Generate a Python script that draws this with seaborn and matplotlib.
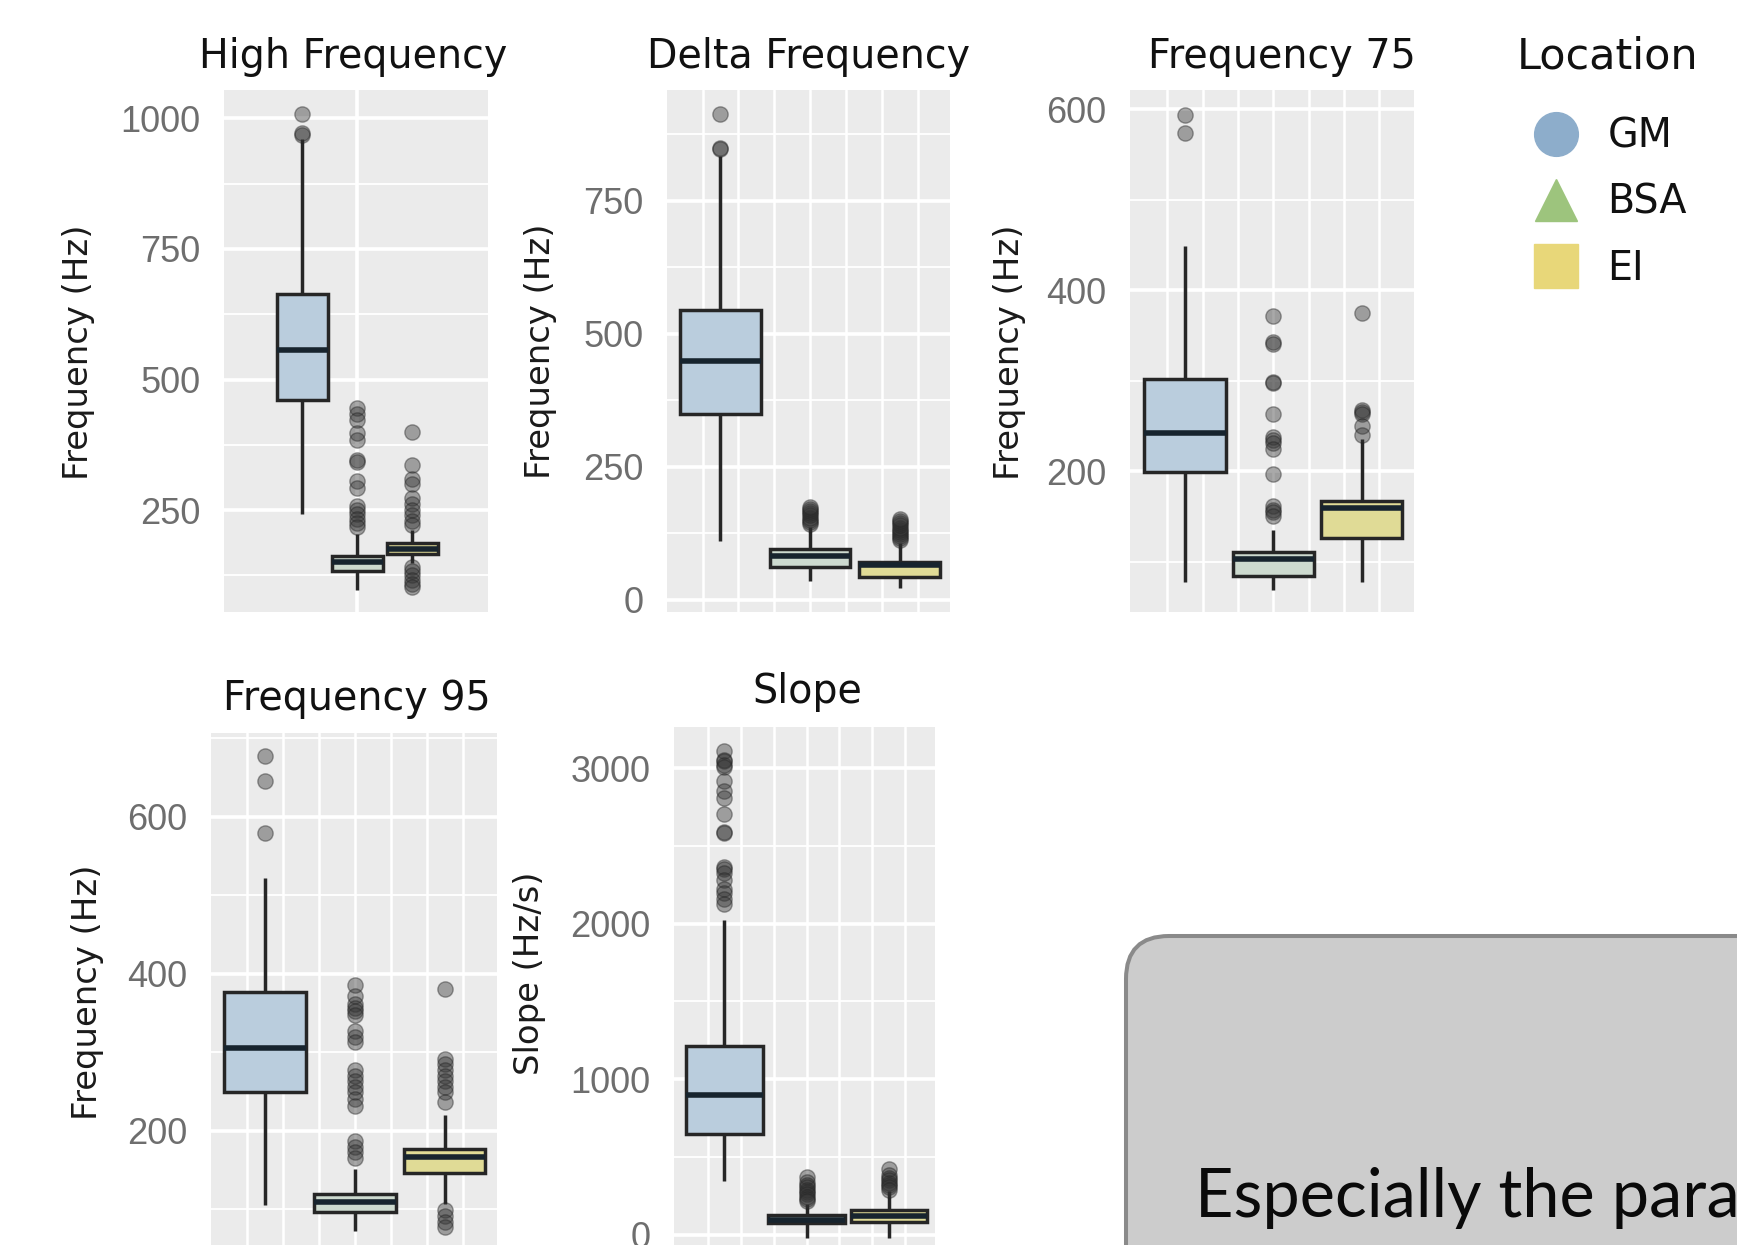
import matplotlib
matplotlib.use("Agg")
import matplotlib.pyplot as plt
import seaborn as sns
import pandas as pd
from matplotlib.lines import Line2D
from matplotlib.patches import FancyBboxPatch

# ---------------- data ----------------
locations = ["GM", "BSA", "EI"]
box_colors = ["#b4cde3", "#cbdccd", "#ece68a"]
legend_colors = ["#8dadcb", "#9dc47d", "#e8d779"]
legend_markers = ["o", "^", "s"]

panel_titles = ["High Frequency", "Delta Frequency", "Frequency 75", "Frequency 95", "Slope"]
panel_ylabels = ["Frequency (Hz)", "Frequency (Hz)", "Frequency (Hz)", "Frequency (Hz)", "Slope (Hz/s)"]

# five-number summaries per location (GM, BSA, EI): [whisker low, Q1, median, Q3, whisker high]
hf_box = [[242, 461, 556, 664, 960], [98, 134, 150, 163, 205], [148, 166, 176, 187, 213]]
hf_out_gm = [969, 972, 1008]
hf_out_bsa = [445, 434, 422, 397, 385, 346, 342, 306, 293, 258, 250, 242, 234, 226, 218]
hf_out_ei = [400, 336, 309, 301, 273, 262, 250, 240, 230, 221, 141, 133, 125, 117, 109, 102]

df_box = [[111, 349, 449, 546, 835], [35, 62, 83, 96, 138], [23, 44, 65, 71, 107]]
df_out_gm = [848, 850, 913]
df_out_bsa = [143, 147, 151, 155, 159, 163, 167, 171, 175]
df_out_ei = [112, 116, 120, 124, 128, 132, 136, 140, 144, 148, 152]

f75_box = [[77, 199, 242, 302, 449], [69, 84, 103, 111, 135], [77, 126, 159, 167, 236]]
f75_out_gm = [574, 594]
f75_out_bsa = [372, 343, 341, 299, 297, 263, 238, 235, 231, 225, 197, 161, 157, 155, 150]
f75_out_ei = [375, 268, 265, 263, 250, 240]

f95_box = [[106, 250, 306, 377, 522], [73, 97, 110, 120, 151], [107, 146, 167, 177, 220]]
f95_out_gm = [579, 645, 677]
f95_out_bsa = [386, 372, 362, 357, 353, 348, 327, 320, 313, 277, 270, 263, 256, 249, 241, 232,
               187, 180, 173, 166]
f95_out_ei = [381, 292, 285, 277, 270, 263, 256, 249, 237, 99, 91, 84, 77]

slope_box = [[348, 650, 897, 1214, 2024], [-20, 76, 96, 125, 200], [-20, 84, 120, 156, 280]]
slope_out_gm = [3112, 3052, 3045, 3023, 3008, 2915, 2855, 2808, 2707, 2587, 2580, 2364, 2350,
                2328, 2280, 2220, 2196, 2160, 2124]
slope_out_bsa = [372, 338, 320, 305, 290, 275, 260, 245, 230, 215]
slope_out_ei = [420, 383, 365, 350, 335, 320, 305, 290]

# ---------------- layout (pixels) ----------------
W, H = 1737, 1245
panels = [
    dict(box=hf_box, out=[hf_out_gm, hf_out_bsa, hf_out_ei], px=(224, 89.8, 487.5, 612),
         ylim=(55.1, 1054.7), major=[250, 500, 750, 1000], minor=[125, 375, 625, 875],
         xlim=(-1.42, 3.37), vgrid=[1.0], width=0.93, lab=(78.6, 352), pad=15.5, tx=0.49),
    dict(box=df_box, out=[df_out_gm, df_out_bsa, df_out_ei], px=(666.7, 90, 950, 612),
         ylim=(-22.6, 958.6), major=[0, 250, 500, 750], minor=[125, 375, 625, 875],
         xlim=(-0.60, 2.56), vgrid=[-0.2, 0.2, 0.6, 1.0, 1.4, 1.8, 2.2], width=0.9,
         lab=(540.5, 351), pad=15.5, tx=0.5),
    dict(box=f75_box, out=[f75_out_gm, f75_out_bsa, f75_out_ei], px=(1129.7, 90, 1414.5, 612),
         ylim=(44.3, 621.4), major=[200, 400, 600], minor=[100, 300, 500],
         xlim=(-0.625, 2.60), vgrid=[-0.2, 0.2, 0.6, 1.0, 1.4, 1.8, 2.2], width=0.92,
         lab=(1009, 352), pad=15.5, tx=0.535),
    dict(box=f95_box, out=[f95_out_gm, f95_out_bsa, f95_out_ei], px=(210.7, 732.8, 496.7, 1290),
         ylim=(-2.7, 707.0), major=[200, 400, 600], minor=[100, 300, 500, 700],
         xlim=(-0.605, 2.58), vgrid=[-0.2, 0.2, 0.6, 1.0, 1.4, 1.8, 2.2], width=0.91,
         lab=(87.5, 992), pad=16.1, tx=0.51),
    dict(box=slope_box, out=[slope_out_gm, slope_out_bsa, slope_out_ei], px=(674, 727.2, 935, 1290),
         ylim=(-356, 3263), major=[0, 1000, 2000, 3000], minor=[500, 1500, 2500],
         xlim=(-0.61, 2.56), vgrid=[-0.2, 0.2, 0.6, 1.0, 1.4, 1.8, 2.2], width=0.93,
         lab=(530, 973.5), pad=17.5, tx=0.51),
]

sns.set_style("white")
plt.rcParams["font.family"] = ["DejaVu Sans"]

fig = plt.figure(figsize=(W / 100, H / 100), dpi=100)
fig.patch.set_facecolor("white")

palette = dict(zip(locations, box_colors))

for p, title, ylab in zip(panels, panel_titles, panel_ylabels):
    l, t, r, b = p["px"]
    ax = fig.add_axes([l / W, 1 - b / H, (r - l) / W, (b - t) / H])
    ax.set_facecolor("#ebebeb")
    ax.set_axisbelow(True)

    box_df = pd.DataFrame(
        [(loc, v) for loc, vals in zip(locations, p["box"]) for v in vals],
        columns=["Location", "value"])
    out_df = pd.DataFrame(
        [(loc, v) for loc, vals in zip(locations, p["out"]) for v in vals],
        columns=["Location", "value"])

    sns.boxplot(data=box_df, x="Location", y="value", hue="Location", order=locations,
                hue_order=locations, palette=palette, width=p["width"], whis=(0, 100),
                showfliers=False, linecolor="#262626", linewidth=2.5, legend=False, ax=ax,
                medianprops=dict(color="#17242e", linewidth=4.0),
                capprops=dict(linewidth=0))
    sns.stripplot(data=out_df, x="Location", y="value", order=locations, jitter=False,
                  color="#333333", alpha=0.42, size=11, linewidth=1.0, edgecolor="#222222",
                  ax=ax)

    ax.set_xlim(*p["xlim"])
    ax.set_ylim(*p["ylim"])
    ax.set_xticks(p["vgrid"])
    ax.set_xticklabels([])
    ax.set_yticks(p["major"])
    ax.set_yticks(p["minor"], minor=True)
    ax.set_yticklabels([str(v) for v in p["major"]], family="Liberation Sans")
    ax.tick_params(axis="x", which="both", length=0)
    ax.tick_params(axis="y", which="major", length=8.4, width=2.2, color="#5a5a5a",
                   labelsize=26, labelcolor="#6e6e6e", pad=8.4)
    ax.tick_params(axis="y", which="minor", length=0)
    ax.grid(which="major", axis="y", color="white", linewidth=2.6)
    ax.grid(which="minor", axis="y", color="white", linewidth=1.3)
    ax.grid(which="major", axis="x", color="white", linewidth=2.6 if len(p["vgrid"]) == 1 else 1.8)
    for s in ax.spines.values():
        s.set_visible(False)
    ax.set_xlabel("")
    ax.set_title(title, fontsize=28.5, color="#111111", pad=p["pad"], x=p["tx"])
    ax.set_ylabel(ylab, fontsize=24.4, color="#1a1a1a")
    ax.yaxis.label.set_verticalalignment("center")
    cx, cy = p["lab"]
    ax.yaxis.set_label_coords((cx - l) / (r - l), (b - cy) / (b - t))

# legend
handles = [Line2D([0], [0], marker=m, linestyle="none", markerfacecolor=c, markeredgecolor=c,
                  markersize=s)
           for m, c, s in zip(legend_markers, legend_colors, [31.5, 30, 31.5])]
leg = fig.legend(handles, locations, title="Location", loc="upper left",
                 bbox_to_anchor=(1517 / W, 1 - 35.5 / H), bbox_transform=fig.transFigure,
                 frameon=False, fontsize=28.5, title_fontsize=31, alignment="left",
                 borderpad=0, borderaxespad=0, handlelength=1.95, handletextpad=0.33,
                 labelspacing=0.666)
leg._legend_box.sep = 28.1
leg.get_title().set_color("#111111")
for txt in leg.get_texts():
    txt.set_color("#111111")

# grey rounded callout box in the bottom right corner
box = FancyBboxPatch((11.26, -0.8), 7.0, 3.89, boxstyle="round,pad=0,rounding_size=0.43",
                     transform=fig.dpi_scale_trans, facecolor="#cccccc", edgecolor="#8a8a8a",
                     linewidth=2.9)
fig.add_artist(box)
fig.text(1195 / W, 1 - 1216.7 / H, "Especially the para", fontsize=48, family="Lato",
         color="#0a0a0a", ha="left", va="baseline")

fig.savefig("out.png", dpi=100, facecolor="white")
